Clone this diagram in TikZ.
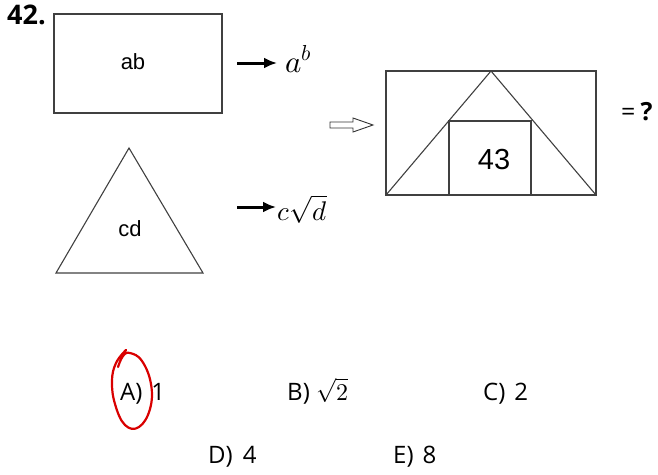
\documentclass[tikz,border=0pt]{standalone}
\usepackage{fontspec}
\usepackage{unicode-math}
\setmainfont{Liberation Sans}
\setmathfont{Latin Modern Math}
\newfontfamily\optfont{Open Sans}
\usetikzlibrary{arrows.meta}

\begin{document}
\begin{tikzpicture}[x=1pt, y=-1pt,
  shape line/.style={draw=black!75, line width=1.1pt},
  figlabel/.style={font=\fontsize{22}{24}\selectfont, inner sep=0pt},
  rule/.style={font=\fontsize{31}{33}\selectfont, anchor=base west, inner sep=1pt},
  mapsto/.style={-{Latex[length=13pt,width=11pt]}, line width=3pt},
  choice/.style={font=\optfont\fontsize{24}{26}\selectfont, anchor=base west, inner sep=0pt},
  >=Stealth
]
  \useasboundingbox (0,0) rectangle (658,474);

  % Question number
  \node[font=\optfont\bfseries\fontsize{27}{29}\selectfont, anchor=base west, inner sep=0pt] (qnum) at (7,24) {42.};

  % Rule 1: rectangle
  \node[shape line, minimum width=168pt, minimum height=99pt, inner sep=0pt] (rect) at (138,63.5) {};
  \node[figlabel] (ab) at (133,62) {ab};
  \coordinate (r1) at (237,63);
  \node[rule] (pow) at (284,72) {$a^b$};
  \draw[mapsto] (r1) -- ([xshift=-7pt]r1 -| pow.west);

  % Rule 2: triangle
  \coordinate (t1) at (129,148);
  \coordinate (t2) at (203,273);
  \coordinate (t3) at (56,273);
  \draw[shape line] (t1) -- (t2) -- (t3) -- cycle;
  \node[figlabel] (cd) at (130,229) {cd};
  \coordinate (r2) at (237,207);
  \node[rule, font=\fontsize{27}{29}\selectfont] (root) at (276,220) {$c\sqrt{d}$};
  \draw[mapsto] (r2) -- (r2 -| root.west);

  % Hollow arrow to the combined figure
  \coordinate (imply) at (330,125);
  \draw[draw=black!80, line width=0.9pt, line join=miter]
    (imply) ++(0,-3) -- ++(23,0) -- ++(0,-4) -- ++(20,7) -- ++(-20,7) -- ++(0,-4) -- ++(-23,0) -- cycle;

  % Combined figure
  \coordinate (b1) at (386,71);
  \coordinate (b2) at (596,195);
  \coordinate (apex) at (491,71);
  \draw[shape line] (b1) rectangle (b2);
  \draw[shape line] (b1 |- b2) -- (apex) -- (b2);
  \node[shape line, minimum width=82pt, minimum height=74pt, inner sep=0pt] (sq) at (490,158) {};
  \node[font=\fontsize{29}{31}\selectfont, inner sep=0pt] (num) at (494,160) {43};
  \node[font=\optfont\fontsize{25}{27}\selectfont, anchor=base west, inner sep=0pt] (ask) at (621,120) {=\hspace{5pt}\textbf{?}};

  % Answer choices
  \node[choice] (ca) at (120,400) {A)\hspace{9pt}1};
  \node[choice] (cb) at (287,400) {B) $\sqrt{2}$};
  \node[choice] (cc) at (483,400) {C)\hspace{9pt}2};
  \node[choice] (cd4) at (208,463) {D)\hspace{10pt}4};
  \node[choice] (ce) at (393,463) {E)\hspace{9pt}8};

  % Marked answer
  \draw[red!85!black, line width=2.2pt, line cap=round, line join=round]
    plot[smooth, tension=0.7] coordinates {(118,367) (123,356) (130,353) (142,361) (151,384)
      (150,409) (139,427) (125,425) (115,404) (112,381) (116,363) (126,350)};
\end{tikzpicture}
\end{document}
